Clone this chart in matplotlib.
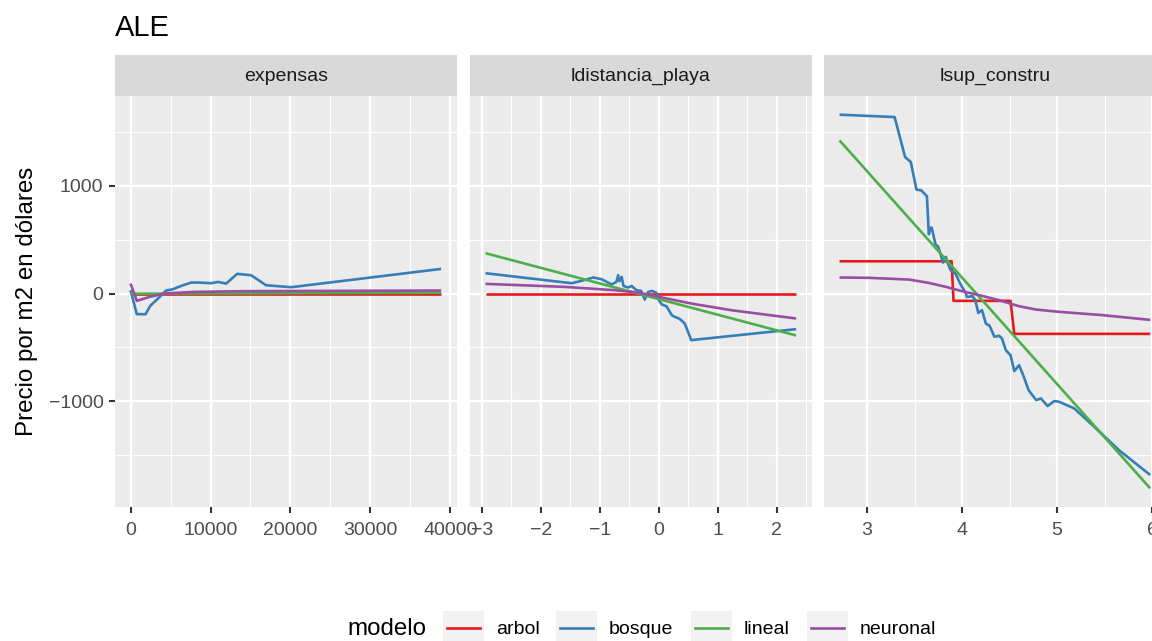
import matplotlib
matplotlib.use("Agg")
import matplotlib.pyplot as plt
from matplotlib.lines import Line2D
from matplotlib.patches import Rectangle
from matplotlib.ticker import FixedLocator, NullFormatter

plt.rcParams["font.family"] = ["Liberation Sans", "DejaVu Sans"]

# ---- data: ALE curves per variable and model ----
variables = ["expensas", "ldistancia_playa", "lsup_constru"]
modelos = ["arbol", "bosque", "lineal", "neuronal"]
colores = ["#E41A1C", "#377EB8", "#4DAF4A", "#984EA3"]

# expensas
exp_arbol_x = [0, 38840]
exp_arbol_y = [-3, -3]
exp_bosque_x = [0, 790, 1875, 2460, 3210, 4460, 5290, 6330, 7580, 8625, 10080,
                10920, 11960, 13330, 15080, 16960, 20080, 38830]
exp_bosque_y = [31, -192, -192, -115, -62, 28, 40, 71, 102, 102, 96,
                108, 93, 183, 170, 77, 59, 229]
exp_lineal_x = [0, 38840]
exp_lineal_y = [-2, 8]
exp_neuronal_x = [0, 790, 2375, 4250, 7790, 14040, 38830]
exp_neuronal_y = [93, -68, -31, 0, 15, 22, 28]

# ldistancia_playa
dist_arbol_x = [-2.94, 2.33]
dist_arbol_y = [0, 0]
dist_bosque_x = [-2.94, -1.48, -1.31, -1.11, -0.97, -0.80, -0.72, -0.69, -0.67,
                 -0.63, -0.60, -0.52, -0.46, -0.38, -0.30, -0.24, -0.18, -0.12,
                 -0.04, 0.00, 0.05, 0.13, 0.22, 0.27, 0.33, 0.38, 0.44, 0.55, 2.33]
dist_bosque_y = [189, 96, 118, 149, 133, 84, 108, 170, 115,
                 155, 70, 56, 70, 31, 25, -56, 15, 25,
                 6, -62, -102, -118, -201, -217, -229, -248, -279, -433, -331]
dist_lineal_x = [-2.94, 2.33]
dist_lineal_y = [375, -390]
dist_neuronal_x = [-2.94, -1.6, -0.75, -0.35, 0.0, 0.55, 1.23, 2.33]
dist_neuronal_y = [90, 62, 31, 9, -31, -93, -155, -232]

# lsup_constru
sup_arbol_x = [2.71, 3.89, 3.91, 4.51, 4.55, 5.98]
sup_arbol_y = [300, 300, -68, -68, -375, -375]
sup_bosque_x = [2.71, 3.29, 3.40, 3.46, 3.52, 3.57, 3.63, 3.65, 3.67, 3.68, 3.72,
                3.75, 3.80, 3.81, 3.83, 3.85, 3.88, 3.93, 3.98, 4.04, 4.05, 4.11,
                4.14, 4.17, 4.21, 4.25, 4.29, 4.34, 4.39, 4.42, 4.46, 4.51, 4.55,
                4.60, 4.65, 4.70, 4.78, 4.83, 4.90, 4.97, 5.02, 5.18, 5.41, 5.65, 5.98]
sup_bosque_y = [1663, 1641, 1269, 1223, 966, 960, 904, 551, 613, 613, 458,
                433, 288, 325, 341, 280, 217, 186, 93, 0, -31, -25,
                -62, -180, -155, -279, -300, -402, -393, -418, -526, -573, -721,
                -666, -774, -898, -991, -975, -1046, -1000, -1006, -1068, -1254, -1455, -1687]
sup_lineal_x = [2.71, 5.98]
sup_lineal_y = [1424, -1811]
sup_neuronal_x = [2.71, 3.02, 3.44, 3.65, 3.83, 4.0, 4.18, 4.39, 4.60, 4.78, 5.02, 5.48, 5.98]
sup_neuronal_y = [149, 146, 130, 99, 62, 22, -15, -62, -118, -149, -170, -201, -245]

series = [
    [(exp_arbol_x, exp_arbol_y), (exp_bosque_x, exp_bosque_y),
     (exp_lineal_x, exp_lineal_y), (exp_neuronal_x, exp_neuronal_y)],
    [(dist_arbol_x, dist_arbol_y), (dist_bosque_x, dist_bosque_y),
     (dist_lineal_x, dist_lineal_y), (dist_neuronal_x, dist_neuronal_y)],
    [(sup_arbol_x, sup_arbol_y), (sup_bosque_x, sup_bosque_y),
     (sup_lineal_x, sup_lineal_y), (sup_neuronal_x, sup_neuronal_y)],
]

x_major = [[0, 10000, 20000, 30000, 40000], [-3, -2, -1, 0, 1, 2], [3, 4, 5, 6]]
x_minor = [[5000, 15000, 25000, 35000], [-2.5, -1.5, -0.5, 0.5, 1.5, 2.5], [3.5, 4.5, 5.5]]
x_labels = [["0", "10000", "20000", "30000", "40000"],
            ["\u22123", "\u22122", "\u22121", "0", "1", "2"],
            ["3", "4", "5", "6"]]
y_major = [-1000, 0, 1000]
y_minor = [-1500, -500, 500, 1500]
y_labels = ["\u22121000", "0", "1000"]

# ---- layout (pixel geometry) ----
W, H = 1152, 641
fig = plt.figure(figsize=(W / 100, H / 100), dpi=100)
fig.patch.set_facecolor("white")

panel_left = [115, 470, 824]
panel_w = 341.7
panel_top, panel_bottom = 96, 507
strip_top = 55


def expand(lo, hi, f=0.05):
    r = hi - lo
    return lo - f * r, hi + f * r


all_y = [v for panel in series for (_, ys) in panel for v in ys]
ylim = expand(min(all_y), max(all_y))

grey_text = "#4D4D4D"
for i, var in enumerate(variables):
    ax = fig.add_axes([panel_left[i] / W, (H - panel_bottom) / H,
                       panel_w / W, (panel_bottom - panel_top) / H])
    ax.set_facecolor("#EBEBEB")
    for s in ax.spines.values():
        s.set_visible(False)
    for (xs, ys), col in zip(series[i], colores):
        ax.plot(xs, ys, color=col, lw=1.9, solid_capstyle="butt", zorder=3)
    all_x = [v for (xs, _) in series[i] for v in xs]
    ax.set_xlim(*expand(min(all_x), max(all_x)))
    ax.set_ylim(*ylim)

    ax.xaxis.set_major_locator(FixedLocator(x_major[i]))
    ax.set_xticklabels(x_labels[i])
    ax.xaxis.set_minor_locator(FixedLocator(x_minor[i]))
    ax.yaxis.set_major_locator(FixedLocator(y_major))
    ax.yaxis.set_minor_locator(FixedLocator(y_minor))
    ax.xaxis.set_minor_formatter(NullFormatter())
    ax.yaxis.set_minor_formatter(NullFormatter())
    ax.grid(which="major", color="white", lw=1.7, zorder=1)
    ax.grid(which="minor", color="white", lw=0.85, zorder=1)
    ax.set_axisbelow(True)
    ax.tick_params(which="minor", length=0)
    ax.tick_params(axis="x", which="major", length=4.3, width=1.5, color="#333333",
                   labelsize=14, labelcolor=grey_text, pad=6.5)
    if i == 0:
        ax.set_yticklabels(y_labels)
        ax.tick_params(axis="y", which="major", length=4.3, width=1.5, color="#333333",
                       labelsize=14, labelcolor=grey_text, pad=4)
    else:
        ax.tick_params(axis="y", which="major", length=0, labelleft=False)

    # facet strip
    sax = fig.add_axes([panel_left[i] / W, (H - panel_top) / H,
                        panel_w / W, (panel_top - strip_top) / H])
    sax.set_facecolor("#D9D9D9")
    sax.set_xticks([])
    sax.set_yticks([])
    for s in sax.spines.values():
        s.set_visible(False)
    sax.text(0.5, 0.47, var, ha="center", va="center", fontsize=14,
             color="#1A1A1A", transform=sax.transAxes)

# titles
fig.text(115 / W, 1 - 36 / H, "ALE", fontsize=21, ha="left", va="baseline")
fig.text(27 / W, 1 - 301.5 / H, "Precio por m2 en dólares", fontsize=17.4,
         rotation=90, ha="center", va="center")

# legend along the bottom
leg_y = 628
fig.text(387 / W, 1 - (leg_y + 1) / H, "modelo", fontsize=17.4, ha="center", va="center")
key_left = [443, 556, 691, 807]
key_w, key_h = 41, 34
for kx, lab, col in zip(key_left, modelos, colores):
    fig.add_artist(Rectangle((kx / W, 1 - (leg_y + key_h / 2) / H), key_w / W, key_h / H,
                             transform=fig.transFigure, facecolor="#F2F2F2",
                             edgecolor="none"))
    fig.add_artist(Line2D([(kx + 4) / W, (kx + key_w - 4) / W],
                          [1 - leg_y / H, 1 - leg_y / H],
                          transform=fig.transFigure, color=col, lw=1.9))
    fig.text((kx + key_w + 12) / W, 1 - (leg_y + 1) / H, lab, fontsize=14,
             ha="left", va="center", color="black")

fig.savefig("out.png", dpi=100)
